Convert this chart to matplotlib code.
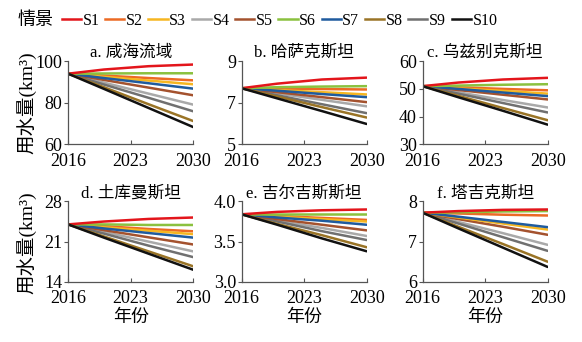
import numpy as np
import matplotlib.pyplot as plt

plt.rcParams['font.family'] = ['Liberation Serif', 'Noto Sans CJK SC', 'DejaVu Sans']

years = [2016, 2020, 2025, 2030]
scenarios = ['S1', 'S2', 'S3', 'S4', 'S5', 'S6', 'S7', 'S8', 'S9', 'S10']
colors = ['#e3151b', '#ec6a24', '#f6b621', '#a9a9a9', '#a4522e',
          '#8bc13f', '#1f5b9e', '#9a7426', '#707070', '#111111']

titles = ['a. 咸海流域', 'b. 哈萨克斯坦', 'c. 乌兹别克斯坦',
          'd. 土库曼斯坦', 'e. 吉尔吉斯斯坦', 'f. 塔吉克斯坦']
ylims = [(60, 100), (5, 9), (30, 60), (14, 28), (3.0, 4.0), (6, 8)]
yticks = [[60, 80, 100], [5, 7, 9], [30, 40, 50, 60], [14, 21, 28],
          [3.0, 3.5, 4.0], [6, 7, 8]]
ytick_labels = [['60', '80', '100'], ['5', '7', '9'], ['30', '40', '50', '60'],
                ['14', '21', '28'], ['3.0', '3.5', '4.0'], ['6', '7', '8']]

# water use (km3) per scenario, S1..S10
aral = [[94, 96.0, 97.6, 98.4], [94, 93.1, 91.9, 90.8], [94, 92.5, 90.7, 88.9],
        [94, 89.7, 84.4, 79.1], [94, 91.0, 87.3, 83.6], [94, 94.1, 94.2, 94.2],
        [94, 91.9, 89.4, 86.8], [94, 87.5, 79.3, 71.2], [94, 88.8, 82.4, 75.9],
        [94, 86.7, 77.5, 68.3]]
kaz = [[7.7, 7.92, 8.12, 8.21], [7.7, 7.68, 7.66, 7.64], [7.7, 7.61, 7.51, 7.40],
       [7.7, 7.45, 7.14, 6.83], [7.7, 7.51, 7.27, 7.03], [7.7, 7.75, 7.78, 7.80],
       [7.7, 7.58, 7.42, 7.27], [7.7, 7.30, 6.79, 6.29], [7.7, 7.36, 6.93, 6.50],
       [7.7, 7.21, 6.60, 5.98]]
uzb = [[51, 52.3, 53.4, 54.0], [51, 50.6, 50.0, 49.5], [51, 50.2, 49.3, 48.3],
       [51, 48.8, 46.0, 43.3], [51, 49.6, 47.9, 46.2], [51, 51.2, 51.5, 51.7],
       [51, 50.0, 48.7, 47.4], [51, 47.5, 43.1, 38.7], [51, 48.3, 44.9, 41.5],
       [51, 47.0, 42.1, 37.1]]
tkm = [[24, 24.5, 24.95, 25.2], [24, 23.7, 23.2, 22.8], [24, 23.5, 22.9, 22.3],
       [24, 22.7, 21.0, 19.3], [24, 23.0, 21.75, 20.5], [24, 24.0, 23.9, 23.9],
       [24, 23.3, 22.5, 21.7], [24, 21.9, 19.3, 16.7], [24, 22.4, 20.3, 18.3],
       [24, 21.7, 18.9, 16.1]]
kgz = [[3.84, 3.87, 3.89, 3.90], [3.84, 3.82, 3.795, 3.77], [3.84, 3.81, 3.78, 3.75],
       [3.84, 3.76, 3.67, 3.57], [3.84, 3.78, 3.71, 3.64], [3.84, 3.84, 3.84, 3.84],
       [3.84, 3.80, 3.76, 3.71], [3.84, 3.72, 3.58, 3.43], [3.84, 3.75, 3.63, 3.52],
       [3.84, 3.71, 3.54, 3.38]]
tjk = [[7.72, 7.76, 7.79, 7.80], [7.72, 7.70, 7.67, 7.65], [7.72, 7.60, 7.45, 7.30],
       [7.72, 7.49, 7.21, 6.92], [7.72, 7.56, 7.37, 7.17], [7.72, 7.73, 7.75, 7.76],
       [7.72, 7.62, 7.49, 7.36], [7.72, 7.37, 6.94, 6.50], [7.72, 7.45, 7.11, 6.77],
       [7.72, 7.33, 6.85, 6.37]]
data = [aral, kaz, uzb, tkm, kgz, tjk]

fig = plt.figure(figsize=(5.82, 3.42), dpi=100)
lefts = [0.117, 0.415, 0.726]
rows = [(0.578, 0.243), (0.176, 0.235)]

# plot order so black ends on top
order = [3, 8, 4, 1, 2, 6, 5, 0, 7, 9]
for k in range(6):
    r, c = divmod(k, 3)
    ax = fig.add_axes([lefts[c], rows[r][0], 0.215, rows[r][1]])
    for i in order:
        ax.plot(years, data[k][i], color=colors[i], lw=1.8,
                solid_capstyle='round', label=scenarios[i])
    ax.set_xlim(2016, 2030)
    ax.set_ylim(*ylims[k])
    ax.set_xticks([2016, 2023, 2030])
    ax.set_yticks(yticks[k])
    ax.set_yticklabels(ytick_labels[k])
    ax.tick_params(labelsize=13, length=3, width=0.8, colors='#555555',
                   labelcolor='black')
    ax.tick_params(axis='x', direction='in', pad=6)
    ax.tick_params(axis='y', direction='out', pad=1)
    for s in ['top', 'right']:
        ax.spines[s].set_visible(False)
    for s in ['left', 'bottom']:
        ax.spines[s].set_color('#555555')
        ax.spines[s].set_linewidth(0.9)
    ax.set_title(titles[k], fontsize=12, pad=2)
    if r == 1:
        ax.set_xlabel('年份', fontsize=13, labelpad=1)

fig.text(0.046, 0.70, '用水量(km³)', rotation=90, ha='center', va='center',
         fontsize=14)
fig.text(0.046, 0.29, '用水量(km³)', rotation=90, ha='center', va='center',
         fontsize=14)

fig.text(0.03, 0.94, '情景', fontsize=13, va='center')
handles = [plt.Line2D([0], [0], color=colors[i], lw=1.8) for i in range(10)]
fig.legend(handles, scenarios, loc='center left', bbox_to_anchor=(0.106, 0.94),
           ncol=10, frameon=False, fontsize=11.5, handlelength=1.2,
           handletextpad=0.1, columnspacing=0.35, borderpad=0, borderaxespad=0)

fig.savefig('out.png', dpi=100)
